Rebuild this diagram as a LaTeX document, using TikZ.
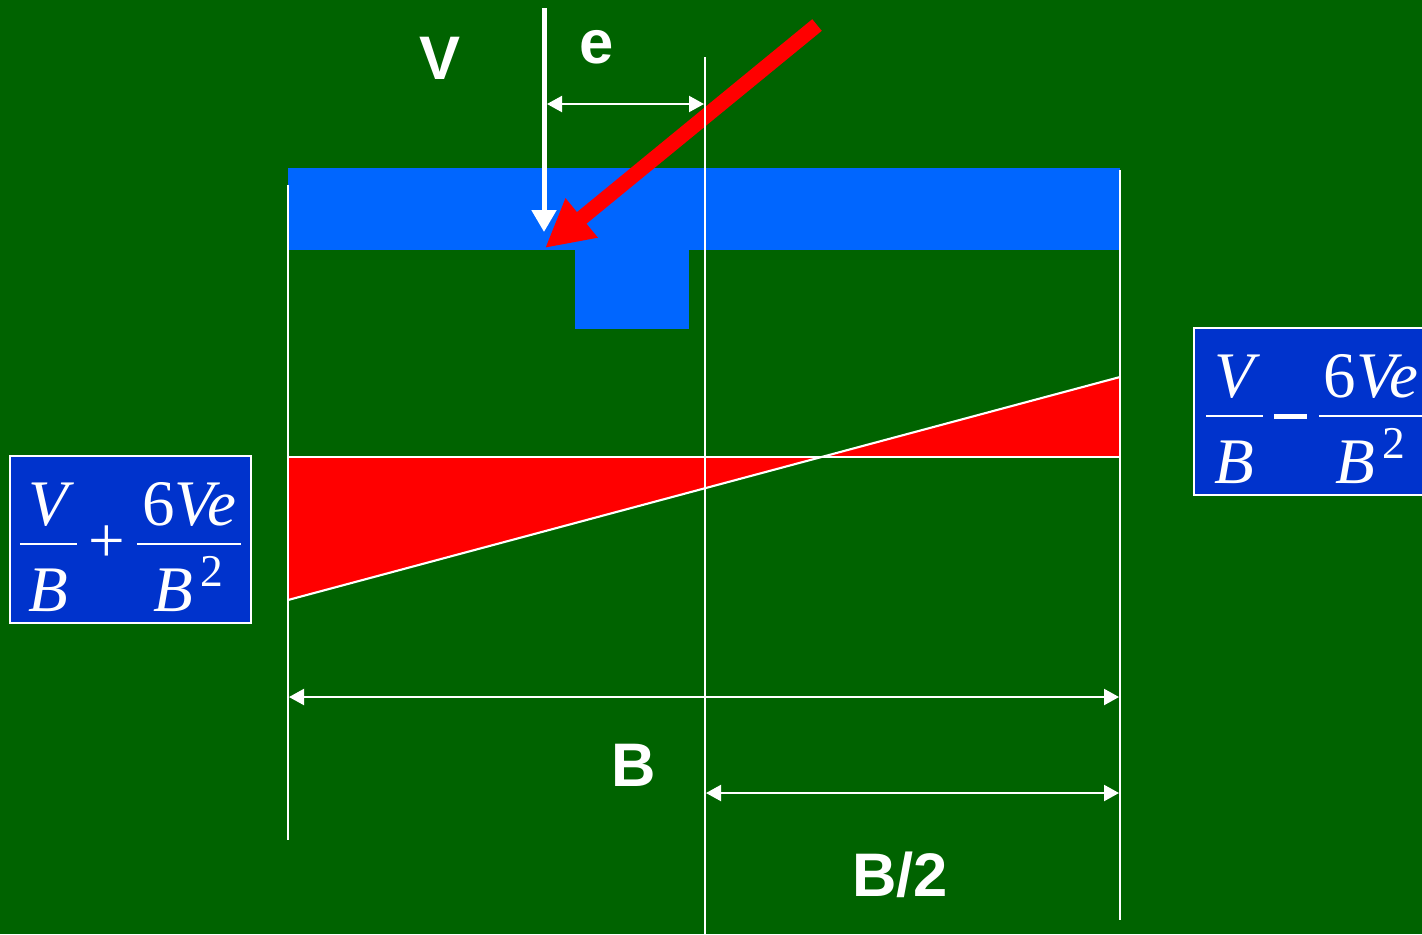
\documentclass[tikz,border=0pt]{standalone}
\usepackage{amsmath}
\usepackage{fontspec}
\setmainfont{Liberation Serif}
\setsansfont{Liberation Sans}
\usetikzlibrary{arrows.meta}

\definecolor{soilgreen}{RGB}{0,99,0}
\definecolor{footblue}{RGB}{0,102,255}
\definecolor{boxblue}{RGB}{0,51,204}

\newcommand{\stressfrac}[1]{$\dfrac{\kern0.13em\textit{V}\kern0.13em}{\rule{0pt}{0.95em}\textit{B}}\mathbin{\vcenter{\hbox{#1}}}\dfrac{\kern0.08em\textup{6}\textit{Ve}\kern0.08em}{\rule{0pt}{0.95em}\textit{B}^{\,\textup{2}}}$}
\newcommand{\minussign}{\rule{0.5em}{0.075em}}

\tikzset{
  guide/.style={white, line width=1.2pt},
  dim/.style={white, line width=1.2pt,
    {Triangle[width=0.32cm,length=0.3cm]}-{Triangle[width=0.32cm,length=0.3cm]}},
  lbl/.style={white, font=\fontsize{35}{40}\selectfont\sffamily\bfseries},
  formula/.style={draw=white, line width=1pt, fill=boxblue, text=white,
    minimum width=4.82cm, inner sep=0pt, text height=1.98cm, text depth=1.36cm,
    font=\fontsize{37}{40}\selectfont}
}

\begin{document}
\begin{tikzpicture}[x=0.02cm, y=-0.02cm]
  \clip (0,0) rectangle (1422,934);
  \fill[soilgreen] (0,0) rectangle (1422,934);
  % footing
  \fill[footblue] (288,168) rectangle (1120,250);
  \fill[footblue] (575,250) rectangle (689,329);
  % inclined load
  \coordinate (Rtop) at (817,25);
  \coordinate (Rtip) at (545,248);
  \draw[red, line width=0.3cm, -{Triangle[width=0.95cm,length=0.95cm]}] (Rtop) -- (Rtip);
  % contact pressure
  \coordinate (PL) at (288,600);
  \coordinate (PR) at (1120,377);
  \coordinate (BL) at (288,457);
  \coordinate (BR) at (1120,457);
  \coordinate (X) at (intersection of PL--PR and BL--BR);
  \fill[red] (BL) -- (PL) -- (X) -- cycle;
  \fill[red] (X) -- (BR) -- (PR) -- cycle;
  \draw[guide] (BL) -- (BR);
  \draw[guide] (PL) -- (PR);
  % guide lines
  \coordinate (L1) at (288,185);
  \coordinate (L2) at (288,840);
  \coordinate (C1) at (705,57);
  \coordinate (C2) at (705,934);
  \coordinate (R1) at (1120,170);
  \coordinate (R2) at (1120,920);
  \draw[guide] (L1) -- (L2);
  \draw[guide] (C1) -- (C2);
  \draw[guide] (R1) -- (R2);
  % vertical load
  \coordinate (Vtop) at (544,8);
  \coordinate (Vbot) at (544,232);
  \draw[white, line width=0.1cm, -{Triangle[width=0.48cm,length=0.44cm]}] (Vtop) -- (Vbot);
  % dimensions
  \coordinate (eL) at (547,104);
  \coordinate (eR) at (704,104);
  \coordinate (BdL) at (289,697);
  \coordinate (BdR) at (1119,697);
  \coordinate (HdL) at (706,793);
  \coordinate (HdR) at (1119,793);
  \draw[dim] (eL) -- (eR);
  \draw[dim] (BdL) -- (BdR);
  \draw[dim] (HdL) -- (HdR);
  \node[lbl] (Vlabel) at (440,58) {V};
  \node[lbl] (elabel) at (597,47) {e};
  \node[lbl] (Blabel) at (634,765) {B};
  \node[lbl] (Hlabel) at (900,875) {B/2};
  % edge stresses
  \node[formula] (qmax) at (130.5,539.5) {\stressfrac{+}};
  \node[formula] (qmin) at (1314.5,411.5) {\stressfrac{\minussign}};
\end{tikzpicture}
\end{document}
